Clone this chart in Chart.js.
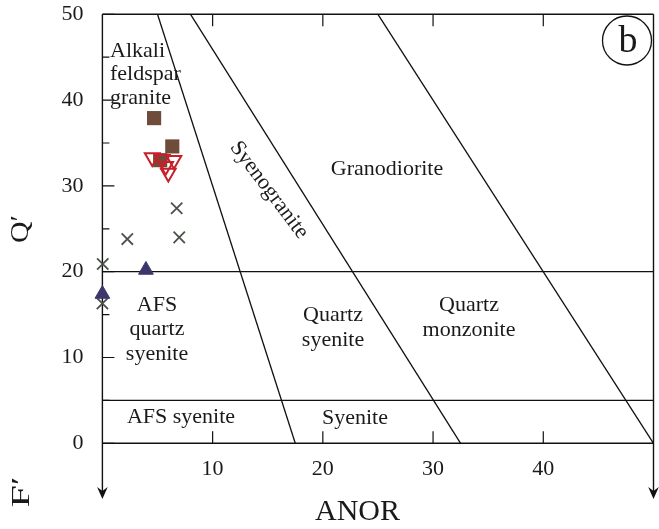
<!DOCTYPE html>
<html>
<head>
<meta charset="utf-8">
<script src="https://cdn.jsdelivr.net/npm/chart.js@4/dist/chart.umd.min.js"></script>
<style>
  html, body { margin: 0; padding: 0; background: #fff; }
  #wrap { width: 659px; height: 529px; }
</style>
</head>
<body>
<div id="wrap"><canvas id="c" width="659" height="529"></canvas></div>
<script>
// Sample compositions plotted as ANOR vs Q'
const squaresX   = [4.69, 6.34, 5.24];
const squaresY   = [37.9, 34.6, 33.0];
const openTriX   = [4.52, 5.43, 6.49, 5.74, 5.98];
const openTriY   = [33.3, 33.1, 33.0, 32.3, 31.5];
const crossX     = [6.74, 2.26, 6.97, 0.03, 0.0];
const crossY     = [27.4, 23.8, 24.0, 20.9, 16.3];
const solidTriX  = [3.95, 0.0];
const solidTriY  = [20.2, 17.4];

// Field boundaries: [x1, y1, x2, y2] in data units
const boundaries = [
  [5, 50, 17.5, 0],
  [8, 50, 32.5, 0],
  [25, 50, 50, 0],
  [0, 20, 50, 20],
  [0, 5, 50, 5]
];

const xTickLabels = [10, 20, 30, 40];
const yMajorTicks = [0, 10, 20, 30, 40, 50];
const yMinorTicks = [5, 15, 25, 35, 45];

const SERIF = '"Liberation Serif", "DejaVu Serif", serif';

const toPts = (xs, ys) => xs.map((x, i) => ({ x, y: ys[i] }));

const pointSets = [
  { label: 'open triangles', data: toPts(openTriX, openTriY), pointStyle: 'triangle', pointRotation: 180,
    pointRadius: 8.5, pointBackgroundColor: 'rgba(0,0,0,0)', pointBorderColor: '#c8202a', pointBorderWidth: 2 },
  { label: 'squares', data: toPts(squaresX, squaresY), pointStyle: 'rect',
    pointRadius: 10, pointBackgroundColor: '#6f4b39', pointBorderColor: '#6f4b39', pointBorderWidth: 0 },
  { label: 'solid triangles', data: toPts(solidTriX, solidTriY), pointStyle: 'triangle',
    pointRadius: 8.5, pointBackgroundColor: '#3c376b', pointBorderColor: '#3c376b', pointBorderWidth: 1 },
  { label: 'crosses', data: toPts(crossX, crossY), pointStyle: 'crossRot',
    pointRadius: 8, pointBackgroundColor: '#4a524a', pointBorderColor: '#4a524a', pointBorderWidth: 1.8 }
].map(d => Object.assign({ showLine: false, clip: false, pointHoverRadius: d.pointRadius }, d));

const lineSets = boundaries.map((b, i) => ({
  label: 'boundary ' + i,
  data: [{ x: b[0], y: b[1] }, { x: b[2], y: b[3] }],
  showLine: true, borderColor: '#111', borderWidth: 1.3, pointRadius: 0, clip: false
}));

// Labels of the classification fields
const fieldLabels = [
  { lines: ['Alkali', 'feldspar', 'granite'], x: 110, y: 51, align: 'left', step: 23.5 },
  { lines: ['Granodiorite'], x: 387, y: 169, align: 'center', step: 0 },
  { lines: ['AFS', 'quartz', 'syenite'], x: 157, y: 305, align: 'center', step: 24.5 },
  { lines: ['Quartz', 'syenite'], x: 333, y: 315, align: 'center', step: 25 },
  { lines: ['Quartz', 'monzonite'], x: 469, y: 305, align: 'center', step: 25 },
  { lines: ['AFS syenite'], x: 181, y: 417, align: 'center', step: 0 },
  { lines: ['Syenite'], x: 355, y: 418, align: 'center', step: 0 }
];

function arrowDown(ctx, x, tipY) {
  ctx.beginPath();
  ctx.moveTo(x, tipY);
  ctx.lineTo(x - 5.3, tipY - 12);
  ctx.lineTo(x, tipY - 8);
  ctx.lineTo(x + 5.3, tipY - 12);
  ctx.closePath();
  ctx.fill();
}

// keep the plotting area exactly where the axes are sized to put it
function noScalePadding(s) {
  s.paddingTop = 0; s.paddingBottom = 0; s.paddingLeft = 0; s.paddingRight = 0;
}

const decor = {
  id: 'decor',
  beforeDatasetsDraw(chart) {
    const { ctx, scales: { x, y } } = chart;
    const L = x.getPixelForValue(0), R = x.getPixelForValue(50);
    const T = y.getPixelForValue(50), B = y.getPixelForValue(0);
    const tipY = 499;
    ctx.save();
    ctx.strokeStyle = '#111';
    ctx.fillStyle = '#111';
    ctx.lineWidth = 1.4;
    ctx.beginPath();
    ctx.moveTo(L, T); ctx.lineTo(R, T);
    ctx.moveTo(L, B); ctx.lineTo(R, B);
    ctx.moveTo(L, T); ctx.lineTo(L, tipY - 4);
    ctx.moveTo(R, T); ctx.lineTo(R, tipY - 4);
    ctx.stroke();
    arrowDown(ctx, L, tipY);
    arrowDown(ctx, R, tipY);

    // inward ticks
    ctx.lineWidth = 1.2;
    ctx.beginPath();
    yMajorTicks.forEach(v => { const p = y.getPixelForValue(v); ctx.moveTo(L, p); ctx.lineTo(L + 12, p); });
    yMinorTicks.forEach(v => { const p = y.getPixelForValue(v); ctx.moveTo(L, p); ctx.lineTo(L + 7, p); });
    xTickLabels.forEach(v => {
      const p = x.getPixelForValue(v);
      ctx.moveTo(p, B); ctx.lineTo(p, B - 12);
      ctx.moveTo(p, T); ctx.lineTo(p, T + 12);
    });
    ctx.stroke();
    ctx.restore();
  },
  afterDraw(chart) {
    const { ctx } = chart;
    ctx.save();
    ctx.fillStyle = '#1a1a1a';
    ctx.textBaseline = 'middle';
    ctx.font = '22px ' + SERIF;
    fieldLabels.forEach(f => {
      ctx.textAlign = f.align;
      f.lines.forEach((t, i) => ctx.fillText(t, f.x, f.y + i * f.step));
    });

    // rotated field name along the boundary
    ctx.save();
    ctx.translate(269, 190);
    ctx.rotate(53 * Math.PI / 180);
    ctx.textAlign = 'center';
    ctx.fillText('Syenogranite', 0, 0);
    ctx.restore();

    // axis names
    ctx.textAlign = 'center';
    ctx.font = '30px ' + SERIF;
    ctx.fillText('ANOR', 357.5, 512);

    ctx.save();
    ctx.translate(21, 229);
    ctx.rotate(-Math.PI / 2);
    ctx.scale(1.15, 1);
    ctx.font = '26px ' + SERIF;
    ctx.fillText('Q\u2032', 0, 0);
    ctx.restore();

    ctx.save();
    ctx.translate(22, 492);
    ctx.rotate(-Math.PI / 2);
    ctx.scale(1.55, 1);
    ctx.font = '26px ' + SERIF;
    ctx.fillText('F\u2032', 0, 0);
    ctx.restore();

    // panel letter
    ctx.strokeStyle = '#111';
    ctx.lineWidth = 1.3;
    ctx.beginPath();
    ctx.arc(627, 40.5, 24.5, 0, Math.PI * 2);
    ctx.stroke();
    ctx.font = '38px ' + SERIF;
    ctx.fillText('b', 628, 42);
    ctx.restore();
  }
};

new Chart(document.getElementById('c'), {
  type: 'scatter',
  data: { datasets: pointSets.concat(lineSets) },
  options: {
    responsive: false,
    animation: false,
    devicePixelRatio: 1,
    layout: { autoPadding: false, padding: { left: 0, right: 5.5, top: 14.3, bottom: 0 } },
    plugins: { legend: { display: false }, tooltip: { enabled: false } },
    scales: {
      x: {
        type: 'linear', min: 0, max: 50,
        grid: { display: false, drawTicks: false },
        border: { display: false },
        ticks: {
          stepSize: 10, padding: 13, color: '#1a1a1a',
          font: { family: SERIF, size: 22 },
          maxRotation: 0,
          callback: v => xTickLabels.includes(v) ? String(v) : ''
        },
        afterFit: s => { s.height = 85.7; noScalePadding(s); }
      },
      y: {
        type: 'linear', min: 0, max: 50,
        grid: { display: false, drawTicks: false },
        border: { display: false },
        ticks: {
          stepSize: 10, padding: 19, color: '#1a1a1a',
          font: { family: SERIF, size: 22 },
          callback: v => yMajorTicks.includes(v) ? String(v) : ''
        },
        afterFit: s => { s.width = 102.4; noScalePadding(s); }
      }
    }
  },
  plugins: [decor]
});
</script>
</body>
</html>
